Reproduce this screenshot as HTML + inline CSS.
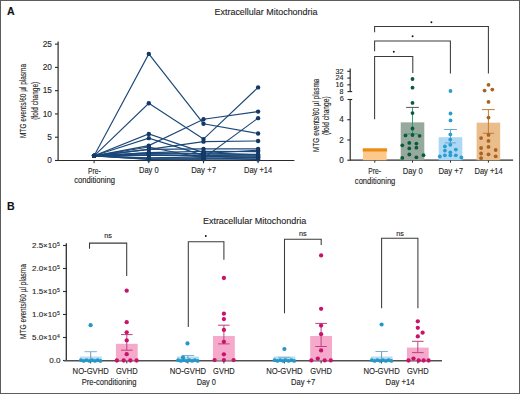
<!DOCTYPE html>
<html><head><meta charset="utf-8"><style>
html,body{margin:0;padding:0;background:#fff;}
svg{display:block;}
text{font-family:"Liberation Sans", sans-serif;stroke:#222;stroke-width:0.12px;}
</style></head><body>
<svg width="520" height="394" viewBox="0 0 520 394">
<rect width="520" height="394" fill="#fff"/>
<text x="7.1" y="14.7" font-size="10.6" text-anchor="start" fill="#111" font-weight="bold">A</text>
<text x="7.1" y="209.9" font-size="10.6" text-anchor="start" fill="#111" font-weight="bold">B</text>
<text x="266" y="14.9" font-size="8.9" text-anchor="middle" fill="#262626" font-weight="normal" textLength="103" lengthAdjust="spacingAndGlyphs">Extracellular Mitochondria</text>
<text x="254.6" y="224.0" font-size="8.9" text-anchor="middle" fill="#262626" font-weight="normal" textLength="103.4" lengthAdjust="spacingAndGlyphs">Extracellular Mitochondria</text>
<line x1="58.1" y1="41.5" x2="58.1" y2="161.0" stroke="#2a2a2a" stroke-width="1.2"/>
<line x1="55" y1="160.5" x2="58.1" y2="160.5" stroke="#2a2a2a" stroke-width="1.1"/>
<text x="51.9" y="163.1" font-size="8.3" text-anchor="end" fill="#262626" font-weight="normal">0</text>
<line x1="55" y1="137.22" x2="58.1" y2="137.22" stroke="#2a2a2a" stroke-width="1.1"/>
<text x="51.9" y="139.82" font-size="8.3" text-anchor="end" fill="#262626" font-weight="normal">5</text>
<line x1="55" y1="113.94" x2="58.1" y2="113.94" stroke="#2a2a2a" stroke-width="1.1"/>
<text x="51.9" y="116.53999999999999" font-size="8.3" text-anchor="end" fill="#262626" font-weight="normal">10</text>
<line x1="55" y1="90.66000000000001" x2="58.1" y2="90.66000000000001" stroke="#2a2a2a" stroke-width="1.1"/>
<text x="51.9" y="93.26" font-size="8.3" text-anchor="end" fill="#262626" font-weight="normal">15</text>
<line x1="55" y1="67.38000000000001" x2="58.1" y2="67.38000000000001" stroke="#2a2a2a" stroke-width="1.1"/>
<text x="51.9" y="69.98" font-size="8.3" text-anchor="end" fill="#262626" font-weight="normal">20</text>
<line x1="55" y1="44.10000000000001" x2="58.1" y2="44.10000000000001" stroke="#2a2a2a" stroke-width="1.1"/>
<text x="51.9" y="46.70000000000001" font-size="8.3" text-anchor="end" fill="#262626" font-weight="normal">25</text>
<line x1="55" y1="160.5" x2="294.4" y2="160.5" stroke="#2a2a2a" stroke-width="1.2"/>
<line x1="94.1" y1="160.5" x2="94.1" y2="163.2" stroke="#2a2a2a" stroke-width="1"/>
<line x1="148.8" y1="160.5" x2="148.8" y2="163.2" stroke="#2a2a2a" stroke-width="1"/>
<line x1="203.5" y1="160.5" x2="203.5" y2="163.2" stroke="#2a2a2a" stroke-width="1"/>
<line x1="258.1" y1="160.5" x2="258.1" y2="163.2" stroke="#2a2a2a" stroke-width="1"/>
<text x="94.3" y="173.5" font-size="8.2" text-anchor="middle" fill="#262626" font-weight="normal" textLength="12.6" lengthAdjust="spacingAndGlyphs">Pre-</text>
<text x="94.6" y="182.9" font-size="8.2" text-anchor="middle" fill="#262626" font-weight="normal" textLength="40.8" lengthAdjust="spacingAndGlyphs">conditioning</text>
<text x="148.8" y="173.3" font-size="8.2" text-anchor="middle" fill="#262626" font-weight="normal" textLength="19.6" lengthAdjust="spacingAndGlyphs">Day 0</text>
<text x="203.6" y="173.3" font-size="8.2" text-anchor="middle" fill="#262626" font-weight="normal" textLength="24.8" lengthAdjust="spacingAndGlyphs">Day +7</text>
<text x="258.1" y="173.3" font-size="8.2" text-anchor="middle" fill="#262626" font-weight="normal" textLength="28.3" lengthAdjust="spacingAndGlyphs">Day +14</text>
<g transform="translate(26.0,100.9) rotate(-90)">
<text x="0" y="0" font-size="8.2" text-anchor="middle" fill="#262626" font-weight="normal" textLength="74" lengthAdjust="spacingAndGlyphs">MTG events/60 µl plasma</text>
</g>
<g transform="translate(38.1,100.8) rotate(-90)">
<text x="0" y="0" font-size="8.2" text-anchor="middle" fill="#262626" font-weight="normal" textLength="38" lengthAdjust="spacingAndGlyphs">(fold change)</text>
</g>
<polyline points="94.1,155.84 148.8,53.88 203.5,123.72 258.1,133.5" fill="none" stroke="#1c4878" stroke-width="1.12"/>
<polyline points="94.1,155.84 148.8,103.23 203.5,139.08 258.1,87.4" fill="none" stroke="#1c4878" stroke-width="1.12"/>
<polyline points="94.1,155.84 148.8,145.6 203.5,119.29 258.1,111.61" fill="none" stroke="#1c4878" stroke-width="1.12"/>
<polyline points="94.1,155.84 148.8,133.96 203.5,152.58 258.1,154.91" fill="none" stroke="#1c4878" stroke-width="1.12"/>
<polyline points="94.1,155.84 148.8,138.15 203.5,155.38 258.1,156.31" fill="none" stroke="#1c4878" stroke-width="1.12"/>
<polyline points="94.1,155.84 148.8,149.33 203.5,141.64 258.1,140.94" fill="none" stroke="#1c4878" stroke-width="1.12"/>
<polyline points="94.1,155.84 148.8,147.0 203.5,158.17 258.1,118.13" fill="none" stroke="#1c4878" stroke-width="1.12"/>
<polyline points="94.1,155.84 148.8,149.33 203.5,148.86 258.1,148.86" fill="none" stroke="#1c4878" stroke-width="1.12"/>
<polyline points="94.1,155.84 148.8,152.58 203.5,151.19 258.1,151.65" fill="none" stroke="#1c4878" stroke-width="1.12"/>
<polyline points="94.1,155.84 148.8,152.86 203.5,153.52 258.1,150.26" fill="none" stroke="#1c4878" stroke-width="1.12"/>
<polyline points="94.1,155.84 148.8,153.66 203.5,154.17 258.1,154.4" fill="none" stroke="#1c4878" stroke-width="1.12"/>
<polyline points="94.1,155.84 148.8,155.1 203.5,155.66 258.1,155.84" fill="none" stroke="#1c4878" stroke-width="1.12"/>
<polyline points="94.1,155.84 148.8,154.77 203.5,156.12 258.1,157.43" fill="none" stroke="#1c4878" stroke-width="1.12"/>
<polyline points="94.1,155.84 148.8,157.89 203.5,156.87 258.1,157.8" fill="none" stroke="#1c4878" stroke-width="1.12"/>
<polyline points="94.1,155.84 148.8,158.22 203.5,158.27 258.1,158.73" fill="none" stroke="#1c4878" stroke-width="1.12"/>
<polyline points="94.1,155.84 148.8,159.43 203.5,158.82 258.1,159.57" fill="none" stroke="#1c4878" stroke-width="1.12"/>
<polyline points="94.1,155.84 148.8,159.15 203.5,159.24" fill="none" stroke="#1c4878" stroke-width="1.12"/>
<circle cx="94.1" cy="155.84" r="2.2" fill="#133a66"/>
<circle cx="148.8" cy="53.88" r="2.2" fill="#133a66"/>
<circle cx="203.5" cy="123.72" r="2.2" fill="#133a66"/>
<circle cx="258.1" cy="133.5" r="2.2" fill="#133a66"/>
<circle cx="94.1" cy="155.84" r="2.2" fill="#133a66"/>
<circle cx="148.8" cy="103.23" r="2.2" fill="#133a66"/>
<circle cx="203.5" cy="139.08" r="2.2" fill="#133a66"/>
<circle cx="258.1" cy="87.4" r="2.2" fill="#133a66"/>
<circle cx="94.1" cy="155.84" r="2.2" fill="#133a66"/>
<circle cx="148.8" cy="145.6" r="2.2" fill="#133a66"/>
<circle cx="203.5" cy="119.29" r="2.2" fill="#133a66"/>
<circle cx="258.1" cy="111.61" r="2.2" fill="#133a66"/>
<circle cx="94.1" cy="155.84" r="2.2" fill="#133a66"/>
<circle cx="148.8" cy="133.96" r="2.2" fill="#133a66"/>
<circle cx="203.5" cy="152.58" r="2.2" fill="#133a66"/>
<circle cx="258.1" cy="154.91" r="2.2" fill="#133a66"/>
<circle cx="94.1" cy="155.84" r="2.2" fill="#133a66"/>
<circle cx="148.8" cy="138.15" r="2.2" fill="#133a66"/>
<circle cx="203.5" cy="155.38" r="2.2" fill="#133a66"/>
<circle cx="258.1" cy="156.31" r="2.2" fill="#133a66"/>
<circle cx="94.1" cy="155.84" r="2.2" fill="#133a66"/>
<circle cx="148.8" cy="149.33" r="2.2" fill="#133a66"/>
<circle cx="203.5" cy="141.64" r="2.2" fill="#133a66"/>
<circle cx="258.1" cy="140.94" r="2.2" fill="#133a66"/>
<circle cx="94.1" cy="155.84" r="2.2" fill="#133a66"/>
<circle cx="148.8" cy="147.0" r="2.2" fill="#133a66"/>
<circle cx="203.5" cy="158.17" r="2.2" fill="#133a66"/>
<circle cx="258.1" cy="118.13" r="2.2" fill="#133a66"/>
<circle cx="94.1" cy="155.84" r="2.2" fill="#133a66"/>
<circle cx="148.8" cy="149.33" r="2.2" fill="#133a66"/>
<circle cx="203.5" cy="148.86" r="2.2" fill="#133a66"/>
<circle cx="258.1" cy="148.86" r="2.2" fill="#133a66"/>
<circle cx="94.1" cy="155.84" r="2.2" fill="#133a66"/>
<circle cx="148.8" cy="152.58" r="2.2" fill="#133a66"/>
<circle cx="203.5" cy="151.19" r="2.2" fill="#133a66"/>
<circle cx="258.1" cy="151.65" r="2.2" fill="#133a66"/>
<circle cx="94.1" cy="155.84" r="2.2" fill="#133a66"/>
<circle cx="148.8" cy="152.86" r="2.2" fill="#133a66"/>
<circle cx="203.5" cy="153.52" r="2.2" fill="#133a66"/>
<circle cx="258.1" cy="150.26" r="2.2" fill="#133a66"/>
<circle cx="94.1" cy="155.84" r="2.2" fill="#133a66"/>
<circle cx="148.8" cy="153.66" r="2.2" fill="#133a66"/>
<circle cx="203.5" cy="154.17" r="2.2" fill="#133a66"/>
<circle cx="258.1" cy="154.4" r="2.2" fill="#133a66"/>
<circle cx="94.1" cy="155.84" r="2.2" fill="#133a66"/>
<circle cx="148.8" cy="155.1" r="2.2" fill="#133a66"/>
<circle cx="203.5" cy="155.66" r="2.2" fill="#133a66"/>
<circle cx="258.1" cy="155.84" r="2.2" fill="#133a66"/>
<circle cx="94.1" cy="155.84" r="2.2" fill="#133a66"/>
<circle cx="148.8" cy="154.77" r="2.2" fill="#133a66"/>
<circle cx="203.5" cy="156.12" r="2.2" fill="#133a66"/>
<circle cx="258.1" cy="157.43" r="2.2" fill="#133a66"/>
<circle cx="94.1" cy="155.84" r="2.2" fill="#133a66"/>
<circle cx="148.8" cy="157.89" r="2.2" fill="#133a66"/>
<circle cx="203.5" cy="156.87" r="2.2" fill="#133a66"/>
<circle cx="258.1" cy="157.8" r="2.2" fill="#133a66"/>
<circle cx="94.1" cy="155.84" r="2.2" fill="#133a66"/>
<circle cx="148.8" cy="158.22" r="2.2" fill="#133a66"/>
<circle cx="203.5" cy="158.27" r="2.2" fill="#133a66"/>
<circle cx="258.1" cy="158.73" r="2.2" fill="#133a66"/>
<circle cx="94.1" cy="155.84" r="2.2" fill="#133a66"/>
<circle cx="148.8" cy="159.43" r="2.2" fill="#133a66"/>
<circle cx="203.5" cy="158.82" r="2.2" fill="#133a66"/>
<circle cx="258.1" cy="159.57" r="2.2" fill="#133a66"/>
<circle cx="94.1" cy="155.84" r="2.2" fill="#133a66"/>
<circle cx="148.8" cy="159.15" r="2.2" fill="#133a66"/>
<circle cx="203.5" cy="159.24" r="2.2" fill="#133a66"/>
<line x1="350.2" y1="99.5" x2="350.2" y2="160.7" stroke="#2a2a2a" stroke-width="1.2"/>
<line x1="350.2" y1="68.6" x2="350.2" y2="91.6" stroke="#2a2a2a" stroke-width="1.2"/>
<line x1="347.5" y1="99.5" x2="352.2" y2="99.5" stroke="#2a2a2a" stroke-width="1.1"/>
<line x1="347.5" y1="91.6" x2="352.2" y2="91.6" stroke="#2a2a2a" stroke-width="1.1"/>
<line x1="347.3" y1="160.2" x2="350.2" y2="160.2" stroke="#2a2a2a" stroke-width="1.1"/>
<line x1="347.3" y1="139.95999999999998" x2="350.2" y2="139.95999999999998" stroke="#2a2a2a" stroke-width="1.1"/>
<line x1="347.3" y1="119.72" x2="350.2" y2="119.72" stroke="#2a2a2a" stroke-width="1.1"/>
<line x1="347.3" y1="84.832" x2="350.2" y2="84.832" stroke="#2a2a2a" stroke-width="1.1"/>
<line x1="347.3" y1="78.064" x2="350.2" y2="78.064" stroke="#2a2a2a" stroke-width="1.1"/>
<line x1="347.3" y1="71.29599999999999" x2="350.2" y2="71.29599999999999" stroke="#2a2a2a" stroke-width="1.1"/>
<text x="343.8" y="162.89999999999998" font-size="8.2" text-anchor="end" fill="#262626" font-weight="normal">0</text>
<text x="343.8" y="142.65999999999997" font-size="8.2" text-anchor="end" fill="#262626" font-weight="normal">2</text>
<text x="343.8" y="122.42" font-size="8.2" text-anchor="end" fill="#262626" font-weight="normal">4</text>
<text x="343.7" y="101.3" font-size="7.3" text-anchor="end" fill="#262626" font-weight="normal">6</text>
<text x="343.5" y="93.94999999999999" font-size="7.3" text-anchor="end" fill="#262626" font-weight="normal" textLength="3.9" lengthAdjust="spacingAndGlyphs">8</text>
<text x="343.5" y="87.18199999999999" font-size="7.3" text-anchor="end" fill="#262626" font-weight="normal" textLength="8.0" lengthAdjust="spacingAndGlyphs">16</text>
<text x="343.5" y="80.41399999999999" font-size="7.3" text-anchor="end" fill="#262626" font-weight="normal" textLength="8.0" lengthAdjust="spacingAndGlyphs">24</text>
<text x="343.5" y="73.64599999999999" font-size="7.3" text-anchor="end" fill="#262626" font-weight="normal" textLength="8.0" lengthAdjust="spacingAndGlyphs">32</text>
<line x1="350.2" y1="160.2" x2="513.1" y2="160.2" stroke="#2a2a2a" stroke-width="1.2"/>
<line x1="374.8" y1="160.2" x2="374.8" y2="162.6" stroke="#2a2a2a" stroke-width="1"/>
<line x1="412.5" y1="160.2" x2="412.5" y2="162.6" stroke="#2a2a2a" stroke-width="1"/>
<line x1="450.5" y1="160.2" x2="450.5" y2="162.6" stroke="#2a2a2a" stroke-width="1"/>
<line x1="488.4" y1="160.2" x2="488.4" y2="162.6" stroke="#2a2a2a" stroke-width="1"/>
<text x="374.6" y="173.8" font-size="8.2" text-anchor="middle" fill="#262626" font-weight="normal" textLength="12.6" lengthAdjust="spacingAndGlyphs">Pre-</text>
<text x="375.1" y="183.6" font-size="8.2" text-anchor="middle" fill="#262626" font-weight="normal" textLength="40.5" lengthAdjust="spacingAndGlyphs">conditioning</text>
<text x="412.7" y="173.8" font-size="8.2" text-anchor="middle" fill="#262626" font-weight="normal" textLength="19.8" lengthAdjust="spacingAndGlyphs">Day 0</text>
<text x="450.8" y="173.8" font-size="8.2" text-anchor="middle" fill="#262626" font-weight="normal" textLength="24.6" lengthAdjust="spacingAndGlyphs">Day +7</text>
<text x="488.6" y="173.8" font-size="8.2" text-anchor="middle" fill="#262626" font-weight="normal" textLength="28.3" lengthAdjust="spacingAndGlyphs">Day +14</text>
<g transform="translate(319.0,115.3) rotate(-90)">
<text x="0" y="0" font-size="8.2" text-anchor="middle" fill="#262626" font-weight="normal" textLength="73.2" lengthAdjust="spacingAndGlyphs">MTG events/60 µl plasma</text>
</g>
<g transform="translate(329.4,115.7) rotate(-90)">
<text x="0" y="0" font-size="8.2" text-anchor="middle" fill="#262626" font-weight="normal" textLength="38.6" lengthAdjust="spacingAndGlyphs">(fold change)</text>
</g>
<rect x="363.0" y="150.07999999999998" width="23.6" height="10.120000000000005" fill="#fcc88c"/>
<rect x="400.7" y="122.35119999999999" width="23.6" height="37.8488" fill="#97a99d"/>
<rect x="438.7" y="137.2276" width="23.6" height="22.972399999999993" fill="#acd8f4"/>
<rect x="476.59999999999997" y="122.6548" width="23.6" height="37.545199999999994" fill="#eabd8c"/>
<rect x="362.7" y="148.3" width="24.4" height="3.2" fill="#ea8b12"/>
<line x1="412.5" y1="107.4" x2="412.5" y2="133.9" stroke="#2e9c74" stroke-width="1"/>
<line x1="406.1" y1="107.4" x2="418.9" y2="107.4" stroke="#555" stroke-width="1"/>
<line x1="406.9" y1="133.9" x2="418.1" y2="133.9" stroke="#2e9c74" stroke-width="1"/>
<line x1="450.5" y1="129.5" x2="450.5" y2="142.9" stroke="#6aaad0" stroke-width="1"/>
<line x1="444.1" y1="129.5" x2="456.9" y2="129.5" stroke="#6aaad0" stroke-width="1"/>
<line x1="444.9" y1="142.9" x2="456.1" y2="142.9" stroke="#6aaad0" stroke-width="1"/>
<line x1="488.4" y1="109.6" x2="488.4" y2="133.3" stroke="#c47a30" stroke-width="1"/>
<line x1="482.0" y1="109.6" x2="494.79999999999995" y2="109.6" stroke="#c47a30" stroke-width="1"/>
<line x1="482.79999999999995" y1="133.3" x2="494.0" y2="133.3" stroke="#c47a30" stroke-width="1"/>
<circle cx="412.5" cy="79.0" r="1.9" fill="#0b5a3c"/>
<circle cx="412.5" cy="87.7" r="1.9" fill="#0b5a3c"/>
<circle cx="412.5" cy="102.9" r="1.9" fill="#0b5a3c"/>
<circle cx="412.5" cy="113.1" r="1.9" fill="#0b5a3c"/>
<circle cx="412.5" cy="128.5" r="1.9" fill="#0b5a3c"/>
<circle cx="405.5" cy="135.4" r="1.9" fill="#0b5a3c"/>
<circle cx="412.5" cy="135" r="1.9" fill="#0b5a3c"/>
<circle cx="419.6" cy="135.8" r="1.9" fill="#0b5a3c"/>
<circle cx="409.3" cy="142.9" r="1.9" fill="#0b5a3c"/>
<circle cx="416.4" cy="143.6" r="1.9" fill="#0b5a3c"/>
<circle cx="402.3" cy="145.3" r="1.9" fill="#0b5a3c"/>
<circle cx="409.3" cy="148.4" r="1.9" fill="#0b5a3c"/>
<circle cx="416.4" cy="147.7" r="1.9" fill="#0b5a3c"/>
<circle cx="409.3" cy="154.5" r="1.9" fill="#0b5a3c"/>
<circle cx="423.5" cy="155.2" r="1.9" fill="#0b5a3c"/>
<circle cx="402.3" cy="157.9" r="1.9" fill="#0b5a3c"/>
<circle cx="416.4" cy="157.3" r="1.9" fill="#0b5a3c"/>
<circle cx="450.5" cy="91.0" r="1.9" fill="#2a9dd0"/>
<circle cx="450.5" cy="113.5" r="1.9" fill="#2a9dd0"/>
<circle cx="450.5" cy="120.4" r="1.9" fill="#2a9dd0"/>
<circle cx="450.3" cy="134.4" r="1.9" fill="#2a9dd0"/>
<circle cx="450.3" cy="139.6" r="1.9" fill="#2a9dd0"/>
<circle cx="450.3" cy="144.8" r="1.9" fill="#2a9dd0"/>
<circle cx="444.9" cy="146.4" r="1.9" fill="#2a9dd0"/>
<circle cx="455.8" cy="149.6" r="1.9" fill="#2a9dd0"/>
<circle cx="444.9" cy="150.6" r="1.9" fill="#2a9dd0"/>
<circle cx="450.3" cy="152.3" r="1.9" fill="#2a9dd0"/>
<circle cx="444.9" cy="155.3" r="1.9" fill="#2a9dd0"/>
<circle cx="450.3" cy="155.3" r="1.9" fill="#2a9dd0"/>
<circle cx="455.8" cy="155.3" r="1.9" fill="#2a9dd0"/>
<circle cx="439.8" cy="156.5" r="1.9" fill="#2a9dd0"/>
<circle cx="461.4" cy="157.5" r="1.9" fill="#2a9dd0"/>
<circle cx="488.5" cy="84.8" r="1.9" fill="#a9621f"/>
<circle cx="484.6" cy="90.6" r="1.9" fill="#a9621f"/>
<circle cx="492.3" cy="89.6" r="1.9" fill="#a9621f"/>
<circle cx="488.5" cy="101.9" r="1.9" fill="#a9621f"/>
<circle cx="488.5" cy="117.6" r="1.9" fill="#a9621f"/>
<circle cx="488.5" cy="134.9" r="1.9" fill="#a9621f"/>
<circle cx="481.1" cy="138.1" r="1.9" fill="#a9621f"/>
<circle cx="488.5" cy="140.9" r="1.9" fill="#a9621f"/>
<circle cx="488.5" cy="146.9" r="1.9" fill="#a9621f"/>
<circle cx="481.1" cy="148.0" r="1.9" fill="#a9621f"/>
<circle cx="495.7" cy="150.0" r="1.9" fill="#a9621f"/>
<circle cx="481.1" cy="153.5" r="1.9" fill="#a9621f"/>
<circle cx="488.5" cy="154.3" r="1.9" fill="#a9621f"/>
<circle cx="495.7" cy="156.3" r="1.9" fill="#a9621f"/>
<circle cx="481.1" cy="158.2" r="1.9" fill="#a9621f"/>
<polyline points="374.6,32.3 374.6,26.4 488.4,26.4 488.4,73.4" fill="none" stroke="#3a3a3a" stroke-width="1.05"/>
<polyline points="374.6,51.2 374.6,40.9 450.4,40.9 450.4,73.6" fill="none" stroke="#3a3a3a" stroke-width="1.05"/>
<polyline points="374.6,119.3 374.6,56.4 412.8,56.4 412.8,73.1" fill="none" stroke="#3a3a3a" stroke-width="1.05"/>
<circle cx="431.4" cy="22.3" r="0.95" fill="#111"/>
<circle cx="412.6" cy="36.2" r="0.95" fill="#111"/>
<circle cx="393.8" cy="51.7" r="0.95" fill="#111"/>
<line x1="66.3" y1="243.3" x2="66.3" y2="361.0" stroke="#2e2e2e" stroke-width="1.3"/>
<line x1="63.0" y1="360.5" x2="66.3" y2="360.5" stroke="#2a2a2a" stroke-width="1.1"/>
<text x="60.5" y="363.1" font-size="8.1" text-anchor="end" fill="#262626" font-weight="normal">0.0</text>
<line x1="63.0" y1="337.5" x2="66.3" y2="337.5" stroke="#2a2a2a" stroke-width="1.1"/>
<text x="56.6" y="340.10" font-size="8.1" text-anchor="end" fill="#262626" textLength="24.6" lengthAdjust="spacingAndGlyphs">5.0×10</text>
<text x="57.0" y="338.00" font-size="5.0" text-anchor="start" fill="#262626">4</text>
<line x1="63.0" y1="314.5" x2="66.3" y2="314.5" stroke="#2a2a2a" stroke-width="1.1"/>
<text x="56.6" y="317.10" font-size="8.1" text-anchor="end" fill="#262626" textLength="24.6" lengthAdjust="spacingAndGlyphs">1.0×10</text>
<text x="57.0" y="315.00" font-size="5.0" text-anchor="start" fill="#262626">5</text>
<line x1="63.0" y1="291.5" x2="66.3" y2="291.5" stroke="#2a2a2a" stroke-width="1.1"/>
<text x="56.6" y="294.10" font-size="8.1" text-anchor="end" fill="#262626" textLength="24.6" lengthAdjust="spacingAndGlyphs">1.5×10</text>
<text x="57.0" y="292.00" font-size="5.0" text-anchor="start" fill="#262626">5</text>
<line x1="63.0" y1="268.5" x2="66.3" y2="268.5" stroke="#2a2a2a" stroke-width="1.1"/>
<text x="56.6" y="271.10" font-size="8.1" text-anchor="end" fill="#262626" textLength="24.6" lengthAdjust="spacingAndGlyphs">2.0×10</text>
<text x="57.0" y="269.00" font-size="5.0" text-anchor="start" fill="#262626">5</text>
<line x1="63.0" y1="245.5" x2="66.3" y2="245.5" stroke="#2a2a2a" stroke-width="1.1"/>
<text x="56.6" y="248.10" font-size="8.1" text-anchor="end" fill="#262626" textLength="24.6" lengthAdjust="spacingAndGlyphs">2.5×10</text>
<text x="57.0" y="246.00" font-size="5.0" text-anchor="start" fill="#262626">5</text>
<line x1="63.8" y1="360.8" x2="442" y2="360.8" stroke="#505050" stroke-width="1.5"/>
<line x1="90.7" y1="360.5" x2="90.7" y2="363.4" stroke="#2a2a2a" stroke-width="1"/>
<line x1="187.9" y1="360.5" x2="187.9" y2="363.4" stroke="#2a2a2a" stroke-width="1"/>
<line x1="284.4" y1="360.5" x2="284.4" y2="363.4" stroke="#2a2a2a" stroke-width="1"/>
<line x1="381.6" y1="360.5" x2="381.6" y2="363.4" stroke="#2a2a2a" stroke-width="1"/>
<line x1="126.8" y1="360.5" x2="126.8" y2="363.4" stroke="#2a2a2a" stroke-width="1"/>
<line x1="223.9" y1="360.5" x2="223.9" y2="363.4" stroke="#2a2a2a" stroke-width="1"/>
<line x1="321.1" y1="360.5" x2="321.1" y2="363.4" stroke="#2a2a2a" stroke-width="1"/>
<line x1="417.8" y1="360.5" x2="417.8" y2="363.4" stroke="#2a2a2a" stroke-width="1"/>
<text x="90.7" y="373.6" font-size="8.2" text-anchor="middle" fill="#262626" font-weight="normal" textLength="36.2" lengthAdjust="spacingAndGlyphs">NO-GVHD</text>
<text x="126.8" y="373.6" font-size="8.2" text-anchor="middle" fill="#262626" font-weight="normal" textLength="21.6" lengthAdjust="spacingAndGlyphs">GVHD</text>
<text x="187.9" y="373.6" font-size="8.2" text-anchor="middle" fill="#262626" font-weight="normal" textLength="36.2" lengthAdjust="spacingAndGlyphs">NO-GVHD</text>
<text x="223.9" y="373.6" font-size="8.2" text-anchor="middle" fill="#262626" font-weight="normal" textLength="21.6" lengthAdjust="spacingAndGlyphs">GVHD</text>
<text x="284.4" y="373.6" font-size="8.2" text-anchor="middle" fill="#262626" font-weight="normal" textLength="36.2" lengthAdjust="spacingAndGlyphs">NO-GVHD</text>
<text x="321.1" y="373.6" font-size="8.2" text-anchor="middle" fill="#262626" font-weight="normal" textLength="21.6" lengthAdjust="spacingAndGlyphs">GVHD</text>
<text x="381.6" y="373.6" font-size="8.2" text-anchor="middle" fill="#262626" font-weight="normal" textLength="36.2" lengthAdjust="spacingAndGlyphs">NO-GVHD</text>
<text x="417.8" y="373.6" font-size="8.2" text-anchor="middle" fill="#262626" font-weight="normal" textLength="21.6" lengthAdjust="spacingAndGlyphs">GVHD</text>
<text x="109.15" y="385.4" font-size="8.2" text-anchor="middle" fill="#262626" font-weight="normal" textLength="54.8" lengthAdjust="spacingAndGlyphs">Pre-conditioning</text>
<text x="206.3" y="385.4" font-size="8.2" text-anchor="middle" fill="#262626" font-weight="normal" textLength="19.3" lengthAdjust="spacingAndGlyphs">Day 0</text>
<text x="303.15" y="385.4" font-size="8.2" text-anchor="middle" fill="#262626" font-weight="normal" textLength="24.2" lengthAdjust="spacingAndGlyphs">Day +7</text>
<text x="400.1" y="385.4" font-size="8.2" text-anchor="middle" fill="#262626" font-weight="normal" textLength="29.1" lengthAdjust="spacingAndGlyphs">Day +14</text>
<g transform="translate(26.4,301.5) rotate(-90)">
<text x="0" y="0" font-size="8.2" text-anchor="middle" fill="#262626" font-weight="normal" textLength="74.8" lengthAdjust="spacingAndGlyphs">MTG events/60 µl plasma</text>
</g>
<polyline points="89.5,248.8 89.5,243.1 126.7,243.1 126.7,276.0" fill="none" stroke="#3a3a3a" stroke-width="1.05"/>
<polyline points="188.3,327.1 188.3,241.8 223.9,241.8 223.9,259.7" fill="none" stroke="#3a3a3a" stroke-width="1.05"/>
<polyline points="284.5,313.3 284.5,239.3 321.2,239.3 321.2,245.0" fill="none" stroke="#3a3a3a" stroke-width="1.05"/>
<polyline points="381.6,308.3 381.6,238.3 417.9,238.3 417.9,308.3" fill="none" stroke="#3a3a3a" stroke-width="1.05"/>
<text x="108.1" y="238.2" font-size="7.3" text-anchor="middle" fill="#262626" font-weight="normal">ns</text>
<text x="302.9" y="235.6" font-size="7.3" text-anchor="middle" fill="#262626" font-weight="normal">ns</text>
<text x="400.0" y="235.6" font-size="7.3" text-anchor="middle" fill="#262626" font-weight="normal">ns</text>
<circle cx="205.8" cy="236.0" r="0.95" fill="#111"/>
<rect x="79.8" y="356.5" width="21.8" height="4.0" fill="#b9dcf3"/>
<rect x="177.0" y="356.5" width="21.8" height="4.0" fill="#b9dcf3"/>
<rect x="273.5" y="356.5" width="21.8" height="4.0" fill="#b9dcf3"/>
<rect x="370.70000000000005" y="356.5" width="21.8" height="4.0" fill="#b9dcf3"/>
<rect x="115.89999999999999" y="343.8" width="21.8" height="16.69999999999999" fill="#f5a9cb"/>
<rect x="213.0" y="336.0" width="21.8" height="24.5" fill="#f5a9cb"/>
<rect x="310.20000000000005" y="336.0" width="21.8" height="24.5" fill="#f5a9cb"/>
<rect x="406.90000000000003" y="347.6" width="21.8" height="12.899999999999977" fill="#f5a9cb"/>
<line x1="126.8" y1="334.6" x2="126.8" y2="350.2" stroke="#c2407f" stroke-width="1"/>
<line x1="121.0" y1="334.6" x2="132.6" y2="334.6" stroke="#b8437c" stroke-width="1"/>
<line x1="121.0" y1="350.2" x2="132.6" y2="350.2" stroke="#c2407f" stroke-width="1"/>
<line x1="223.9" y1="325.2" x2="223.9" y2="343.9" stroke="#c2407f" stroke-width="1"/>
<line x1="218.1" y1="325.2" x2="229.70000000000002" y2="325.2" stroke="#b8437c" stroke-width="1"/>
<line x1="218.1" y1="343.9" x2="229.70000000000002" y2="343.9" stroke="#c2407f" stroke-width="1"/>
<line x1="321.1" y1="323.4" x2="321.1" y2="346.5" stroke="#c2407f" stroke-width="1"/>
<line x1="315.3" y1="323.4" x2="326.90000000000003" y2="323.4" stroke="#b8437c" stroke-width="1"/>
<line x1="315.3" y1="346.5" x2="326.90000000000003" y2="346.5" stroke="#c2407f" stroke-width="1"/>
<line x1="417.8" y1="341.3" x2="417.8" y2="352.6" stroke="#c2407f" stroke-width="1"/>
<line x1="412.0" y1="341.3" x2="423.6" y2="341.3" stroke="#b8437c" stroke-width="1"/>
<line x1="412.0" y1="352.6" x2="423.6" y2="352.6" stroke="#c2407f" stroke-width="1"/>
<line x1="90.7" y1="351.7" x2="90.7" y2="359.5" stroke="#6a9cb8" stroke-width="1"/>
<line x1="84.5" y1="351.7" x2="96.9" y2="351.7" stroke="#7fb3cf" stroke-width="1"/>
<line x1="187.9" y1="355.5" x2="187.9" y2="359.5" stroke="#6a9cb8" stroke-width="1"/>
<line x1="181.70000000000002" y1="355.5" x2="194.1" y2="355.5" stroke="#7fb3cf" stroke-width="1"/>
<line x1="284.4" y1="357.3" x2="284.4" y2="359.5" stroke="#6a9cb8" stroke-width="1"/>
<line x1="278.2" y1="357.3" x2="290.59999999999997" y2="357.3" stroke="#7fb3cf" stroke-width="1"/>
<line x1="381.6" y1="351.5" x2="381.6" y2="359.5" stroke="#6a9cb8" stroke-width="1"/>
<line x1="375.40000000000003" y1="351.5" x2="387.8" y2="351.5" stroke="#7fb3cf" stroke-width="1"/>
<circle cx="126.7" cy="290.7" r="2.15" fill="#c8126c"/>
<circle cx="126.7" cy="322.2" r="2.15" fill="#c8126c"/>
<circle cx="126.7" cy="332.3" r="2.15" fill="#c8126c"/>
<circle cx="126.7" cy="340.4" r="2.15" fill="#c8126c"/>
<circle cx="126.7" cy="354.2" r="2.15" fill="#c8126c"/>
<circle cx="116.9" cy="360.5" r="2.15" fill="#c8126c"/>
<circle cx="123.7" cy="360.5" r="2.15" fill="#c8126c"/>
<circle cx="130.3" cy="360.5" r="2.15" fill="#c8126c"/>
<circle cx="136.6" cy="360.5" r="2.15" fill="#c8126c"/>
<circle cx="223.9" cy="278.0" r="2.15" fill="#c8126c"/>
<circle cx="223.9" cy="313.7" r="2.15" fill="#c8126c"/>
<circle cx="223.9" cy="319.1" r="2.15" fill="#c8126c"/>
<circle cx="223.9" cy="329.9" r="2.15" fill="#c8126c"/>
<circle cx="223.9" cy="341.8" r="2.15" fill="#c8126c"/>
<circle cx="223.9" cy="354.3" r="2.15" fill="#c8126c"/>
<circle cx="214.6" cy="360.1" r="2.15" fill="#c8126c"/>
<circle cx="223.9" cy="360.1" r="2.15" fill="#c8126c"/>
<circle cx="233.6" cy="360.1" r="2.15" fill="#c8126c"/>
<circle cx="321.1" cy="255.4" r="2.15" fill="#c8126c"/>
<circle cx="321.1" cy="308.8" r="2.15" fill="#c8126c"/>
<circle cx="321.1" cy="325.6" r="2.15" fill="#c8126c"/>
<circle cx="321.1" cy="334.2" r="2.15" fill="#c8126c"/>
<circle cx="321.1" cy="350.4" r="2.15" fill="#c8126c"/>
<circle cx="311.3" cy="360.4" r="2.15" fill="#c8126c"/>
<circle cx="317.8" cy="358.6" r="2.15" fill="#c8126c"/>
<circle cx="324.7" cy="360.4" r="2.15" fill="#c8126c"/>
<circle cx="330.8" cy="360.4" r="2.15" fill="#c8126c"/>
<circle cx="417.8" cy="321.3" r="2.15" fill="#c8126c"/>
<circle cx="417.8" cy="327.8" r="2.15" fill="#c8126c"/>
<circle cx="422.6" cy="332.7" r="2.15" fill="#c8126c"/>
<circle cx="417.8" cy="336.4" r="2.15" fill="#c8126c"/>
<circle cx="408.5" cy="360.5" r="2.15" fill="#c8126c"/>
<circle cx="413.5" cy="358.6" r="2.15" fill="#c8126c"/>
<circle cx="418.7" cy="360.5" r="2.15" fill="#c8126c"/>
<circle cx="423.6" cy="360.5" r="2.15" fill="#c8126c"/>
<circle cx="428.6" cy="360.5" r="2.15" fill="#c8126c"/>
<circle cx="90.6" cy="325.2" r="2.1" fill="#2497c6"/>
<circle cx="80.9" cy="360.2" r="1.9" fill="#2497c6"/>
<circle cx="83.7" cy="360.9" r="1.9" fill="#2497c6"/>
<circle cx="86.5" cy="360.2" r="1.9" fill="#2497c6"/>
<circle cx="89.3" cy="360.9" r="1.9" fill="#2497c6"/>
<circle cx="92.1" cy="360.2" r="1.9" fill="#2497c6"/>
<circle cx="94.9" cy="360.9" r="1.9" fill="#2497c6"/>
<circle cx="97.7" cy="360.2" r="1.9" fill="#2497c6"/>
<circle cx="100.5" cy="360.9" r="1.9" fill="#2497c6"/>
<circle cx="187.5" cy="343.4" r="2.1" fill="#2497c6"/>
<circle cx="183.0" cy="357.6" r="2.1" fill="#2497c6"/>
<circle cx="178.1" cy="360.2" r="1.9" fill="#2497c6"/>
<circle cx="180.9" cy="360.9" r="1.9" fill="#2497c6"/>
<circle cx="183.7" cy="360.2" r="1.9" fill="#2497c6"/>
<circle cx="186.5" cy="360.9" r="1.9" fill="#2497c6"/>
<circle cx="189.3" cy="360.2" r="1.9" fill="#2497c6"/>
<circle cx="192.1" cy="360.9" r="1.9" fill="#2497c6"/>
<circle cx="194.9" cy="360.2" r="1.9" fill="#2497c6"/>
<circle cx="197.7" cy="360.9" r="1.9" fill="#2497c6"/>
<circle cx="284.4" cy="349.0" r="2.1" fill="#2497c6"/>
<circle cx="274.6" cy="360.2" r="1.9" fill="#2497c6"/>
<circle cx="277.4" cy="360.9" r="1.9" fill="#2497c6"/>
<circle cx="280.2" cy="360.2" r="1.9" fill="#2497c6"/>
<circle cx="283.0" cy="360.9" r="1.9" fill="#2497c6"/>
<circle cx="285.8" cy="360.2" r="1.9" fill="#2497c6"/>
<circle cx="288.6" cy="360.9" r="1.9" fill="#2497c6"/>
<circle cx="291.4" cy="360.2" r="1.9" fill="#2497c6"/>
<circle cx="294.2" cy="360.9" r="1.9" fill="#2497c6"/>
<circle cx="381.6" cy="324.5" r="2.1" fill="#2497c6"/>
<circle cx="371.8" cy="360.2" r="1.9" fill="#2497c6"/>
<circle cx="374.6" cy="360.9" r="1.9" fill="#2497c6"/>
<circle cx="377.4" cy="360.2" r="1.9" fill="#2497c6"/>
<circle cx="380.2" cy="360.9" r="1.9" fill="#2497c6"/>
<circle cx="383.0" cy="360.2" r="1.9" fill="#2497c6"/>
<circle cx="385.8" cy="360.9" r="1.9" fill="#2497c6"/>
<circle cx="388.6" cy="360.2" r="1.9" fill="#2497c6"/>
<circle cx="391.4" cy="360.9" r="1.9" fill="#2497c6"/>
<rect x="0.5" y="0.5" width="519" height="393" fill="none" stroke="#5c5c5c" stroke-width="1"/>
</svg>
</body></html>
